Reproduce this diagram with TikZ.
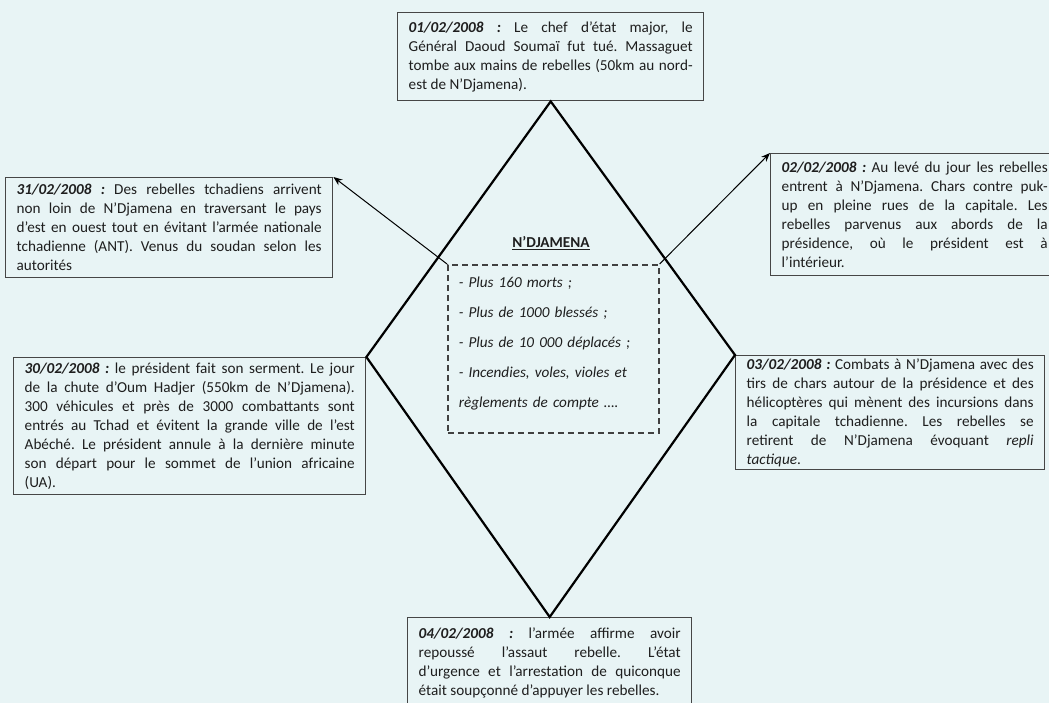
\documentclass[tikz,border=0pt]{standalone}
\usepackage{fontspec}
\setmainfont{Carlito}
\usetikzlibrary{arrows.meta, positioning}
\definecolor{bgcol}{RGB}{232,244,245}
\definecolor{txtcol}{RGB}{30,30,30}
\definecolor{boxcol}{RGB}{70,70,70}
\newcommand{\datum}[1]{\textbf{\textit{#1 :}}}
\hyphenpenalty=10000
\exhyphenpenalty=50
\frenchspacing

\begin{document}
\begin{tikzpicture}[x=1pt, y=-1pt,
  evt/.style={draw=boxcol, line width=1.4pt, anchor=north west, inner xsep=11pt,
    inner ysep=0pt, align=justify, text=txtcol,
    font=\fontsize{15.2}{19}\selectfont},
  stats/.style={draw=black!75, line width=1.6pt, dash pattern=on 6pt off 4pt,
    anchor=north west, inner xsep=11pt, align=left, text=txtcol,
    font=\fontsize{15.2}{30}\selectfont\itshape},
  diam/.style={line width=2.2pt, line join=miter},
  link/.style={line width=1pt, -{Stealth[length=9pt,width=7pt]}}]
\useasboundingbox (0,0) rectangle (1049,703);
\clip (0,0) rectangle (1049,703);
\fill[bgcol] (0,0) rectangle (1049,703);

\node[evt, text width=284pt, minimum height=88pt] (tb) at (397,12)
  {\datum{01/02/2008} Le chef d’état major, le\linebreak
   Général Daoud Soumaï fut tué. Massaguet\linebreak
   tombe aux mains de rebelles (50km au nord-\linebreak
   est de N’Djamena).};
\node[evt, text width=305pt, minimum height=100pt] (lt) at (5,177)
  {\datum{31/02/2008} Des rebelles tchadiens arrivent\linebreak
   non loin de N’Djamena en traversant le pays\linebreak
   d’est en ouest tout en évitant l’armée nationale\linebreak
   tchadienne (ANT). Venus du soudan selon les\linebreak
   autorités};
\node[evt, text width=266pt, minimum height=122pt] (rt) at (770,153)
  {\datum{02/02/2008} Au levé du jour les rebelles\linebreak
   entrent à N’Djamena. Chars contre puk-\linebreak
   up en pleine rues de la capitale. Les\linebreak
   rebelles parvenus aux abords de la\linebreak
   présidence, où le président est à\linebreak
   l’intérieur.};
\node[evt, text width=330pt, minimum height=137pt] (lb) at (13,357)
  {\datum{30/02/2008} le président fait son serment. Le jour\linebreak
   de la chute d’Oum Hadjer (550km de N’Djamena).\linebreak
   300 véhicules et près de 3000 combattants sont\linebreak
   entrés au Tchad et évitent la grande ville de l’est\linebreak
   Abéché. Le président annule à la dernière minute\linebreak
   son départ pour le sommet de l’union africaine\linebreak
   (UA).};
\node[evt, text width=287pt, minimum height=114pt] (rb) at (735,355)
  {\datum{03/02/2008} Combats à N’Djamena avec des\linebreak
   tirs de chars autour de la présidence et des\linebreak
   hélicoptères qui mènent des incursions dans\linebreak
   la capitale tchadienne. Les rebelles se\linebreak
   retirent de N’Djamena évoquant \textit{repli}\linebreak
   \textit{tactique}.};
\node[evt, text width=262pt, minimum height=90pt] (bt) at (407,617)
  {\datum{04/02/2008} l’armée affirme avoir\linebreak
   repoussé l’assaut rebelle. L’état\linebreak
   d’urgence et l’arrestation de quiconque\linebreak
   était soupçonné d’appuyer les rebelles.};

\draw[diam] (tb.south) -- (rb.north west) -- (bt.north) -- (lb.north east) -- cycle;

\node[stats, text width=189pt, minimum height=168pt] (cnt) at (447,264)
  {- Plus 160 morts ;\\
   - Plus de 1000 blessés ;\\
   - Plus de 10 000 déplacés ;\\
   - Incendies, voles, violes et\\
   règlements de compte ….\par\vspace{10pt}};
\node[text=txtcol, font=\fontsize{15.2}{19}\selectfont\bfseries] (city) at (551,243)
  {\underline{N’DJAMENA}};

\draw[link] (cnt.north west) -- (lt.north east);
\draw[link] (cnt.north east) -- (rt.north west);
\end{tikzpicture}
\end{document}
